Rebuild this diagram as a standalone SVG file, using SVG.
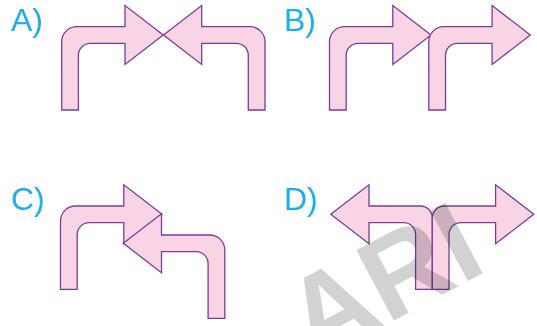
<svg xmlns="http://www.w3.org/2000/svg" width="537" height="326" viewBox="0 0 537 326">
  <style>
    .arrow { fill: #f9d4e5; stroke: #7a3d9c; stroke-width: 1.3; stroke-linejoin: miter; }
    .label { font-family: "Liberation Sans", Arial, sans-serif; font-size: 32px; fill: #1ab0ec; }
    .wm { font-family: "Liberation Sans", Arial, sans-serif; font-weight: bold; font-size: 116px; fill: #d2d2d2; mix-blend-mode: multiply; }
  </style>
  <defs>
    <path id="arrowR" d="M 0 75 L 0 6.7 A 15 15 0 0 1 15 -8.3 L 63.3 -8.3 L 63.3 -29.5 L 101.5 0 L 63.3 29.5 L 63.3 8.3 L 28.7 8.3 A 12 12 0 0 0 16.7 20.3 L 16.7 75 Z"/>
    <path id="arrowRd" d="M 0 75 L 0 3.7 A 12 12 0 0 1 12 -8.3 L 63.3 -8.3 L 63.3 -29.5 L 101.5 0 L 63.3 29.5 L 63.3 8.3 L 28.7 8.3 A 12 12 0 0 0 16.7 20.3 L 16.7 75 Z"/>
  </defs>

  <g id="labels">
    <text class="label" x="11" y="31">A)</text>
    <text class="label" x="284" y="31">B)</text>
    <text class="label" x="11" y="210">C)</text>
    <text class="label" x="284" y="210">D)</text>
  </g>

  <g id="optionA">
    <use href="#arrowR" class="arrow" transform="translate(61.7,35)"/>
    <use href="#arrowR" class="arrow" transform="translate(265,35) scale(-1,1)"/>
  </g>

  <g id="optionB">
    <use href="#arrowR" class="arrow" transform="translate(329.5,35)"/>
    <use href="#arrowR" class="arrow" transform="translate(428.8,35)"/>
  </g>

  <g id="optionC">
    <use href="#arrowR" class="arrow" transform="translate(60.5,214.3)"/>
    <use href="#arrowR" class="arrow" transform="translate(224.8,243.3) scale(-1,1)"/>
  </g>

  <g id="optionD">
    <use href="#arrowRd" class="arrow" transform="translate(432.3,214.3) scale(-1,1)"/>
    <use href="#arrowRd" class="arrow" transform="translate(432.3,214.3)"/>
  </g>

  <g id="watermark">
    <text class="wm" x="0" y="0" transform="translate(313,363.5) rotate(-28)">ARI</text>
  </g>
</svg>
